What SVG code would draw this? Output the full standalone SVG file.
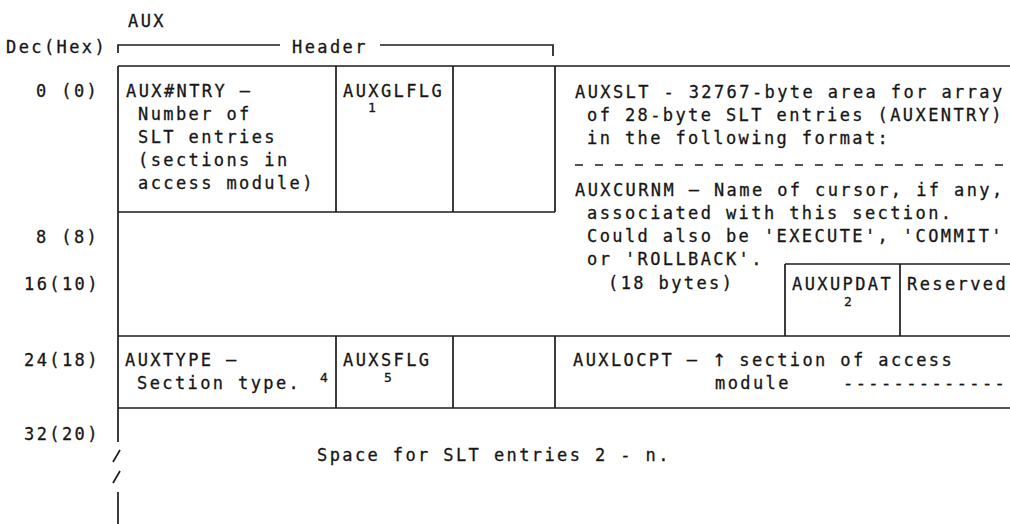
<svg xmlns="http://www.w3.org/2000/svg" width="1010" height="524" viewBox="0 0 1010 524">
<style>
text{font-family:"DejaVu Sans Mono","Liberation Mono",monospace;font-size:17px;letter-spacing:2.4px;fill:#161616;stroke:#161616;stroke-width:0.3}
.s{font-size:13px;letter-spacing:0}
.arr{font-family:"DejaVu Sans",sans-serif;font-size:17px}
.ln{stroke:#1c1c1c;stroke-width:1.7;fill:none}
.dash{stroke:#1c1c1c;stroke-width:1.7;stroke-dasharray:8 12;fill:none}
</style>
<rect width="1010" height="524" fill="#ffffff"/>
<g id="labels">
<text x="128" y="27">AUX</text>
<text x="6" y="53">Dec(Hex)</text>
<text x="292" y="53">Header</text>
<text x="36" y="97">0 (0)</text>
<text x="36" y="243">8 (8)</text>
<text x="24" y="290">16(10)</text>
<text x="24" y="366">24(18)</text>
<text x="24" y="440">32(20)</text>
</g>
<g id="connectors">
<path class="ln" d="M118,53 V45 H280 M380,45 H553 V56"/>
<path class="ln" d="M118,66 H1010 M118,66 V442 M118,492 V524 M118,212 H555 M336,66 V212 M453,66 V212 M555,66 V212"/>
<path class="dash" d="M575,165 H1010"/>
<path class="ln" d="M785,264 H1010 M785,264 V336 M900,264 V336"/>
<path class="ln" d="M118,336 H1010 M118,408 H1010 M336,336 V408 M453,336 V408 M555,336 V408"/>
<path class="ln" d="M113,462 L120,450 M113,483 L120,471"/>
</g>
<g id="auxntry">
<text x="126" y="97">AUX#NTRY –</text>
<text x="138" y="120">Number of</text>
<text x="138" y="143">SLT entries</text>
<text x="138" y="166">(sections in</text>
<text x="138" y="189">access module)</text>
</g>
<g id="auxglflg">
<text x="343" y="97">AUXGLFLG</text>
<text class="s" x="368" y="112">1</text>
</g>
<g id="auxslt">
<text x="575" y="98">AUXSLT - 32767-byte area for array</text>
<text x="587" y="121">of 28-byte SLT entries (AUXENTRY)</text>
<text x="587" y="144">in the following format:</text>
</g>
<g id="auxcurnm">
<text x="575" y="196">AUXCURNM — Name of cursor, if any,</text>
<text x="587" y="219">associated with this section.</text>
<text x="587" y="242">Could also be 'EXECUTE', 'COMMIT'</text>
<text x="587" y="265">or 'ROLLBACK'.</text>
<text x="608" y="289">(18 bytes)</text>
</g>
<g id="auxupdat">
<text x="792" y="290">AUXUPDAT</text>
<text class="s" x="844" y="306">2</text>
</g>
<g id="reserved">
<text x="907" y="290">Reserved</text>
</g>
<g id="auxtype">
<text x="125" y="366">AUXTYPE –</text>
<text x="137" y="389">Section type.</text>
<text class="s" x="320" y="382">4</text>
</g>
<g id="auxsflg">
<text x="343" y="366">AUXSFLG</text>
<text class="s" x="384" y="382">5</text>
</g>
<g id="auxlocpt">
<text x="573" y="366">AUXLOCPT — <tspan class="arr">↑</tspan><tspan dx="-2"> section of access</tspan></text>
<text x="715" y="389">module</text>
<text x="843" y="389">-------------</text>
</g>
<g id="space">
<text x="317" y="461">Space for SLT entries 2 - n.</text>
</g>
</svg>
